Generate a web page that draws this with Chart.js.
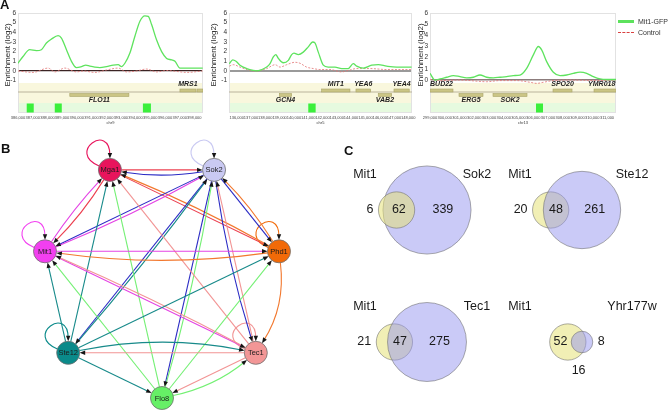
<!DOCTYPE html>
<html><head><meta charset="utf-8">
<script src="https://cdn.jsdelivr.net/npm/chart.js@4.4.1/dist/chart.umd.min.js"></script>
<style>
html,body{margin:0;padding:0;background:#fff}
#wrap{position:relative;width:669px;height:411px;overflow:hidden;font-family:"Liberation Sans",Arial,sans-serif;background:#fff}
canvas{position:absolute}
.pl{position:absolute;font-weight:bold;font-size:13px;color:#111;line-height:1}
.lg{position:absolute;font-size:7px;color:#333;line-height:1;white-space:nowrap}
.ln{position:absolute;width:16px;height:0}
</style></head><body>
<div id="wrap">
<canvas id="a1" width="210" height="130" style="left:0;top:0"></canvas>
<canvas id="a2" width="215" height="130" style="left:205px;top:0"></canvas>
<canvas id="a3" width="216" height="130" style="left:414px;top:0"></canvas>
<canvas id="nb" width="330" height="281" style="left:0;top:130px"></canvas>
<canvas id="vc" width="339" height="281" style="left:330px;top:130px"></canvas>
<div class="pl" style="left:0px;top:-2px">A</div>
<div class="pl" style="left:1px;top:142px">B</div>
<div class="pl" style="left:344px;top:144px">C</div>
<div class="ln" style="left:618px;top:20px;border-top:3px solid #5de25d"></div>
<div class="lg" style="left:638px;top:18px">Mit1-GFP</div>
<div class="ln" style="left:618px;top:32px;border-top:1px dashed #d94040"></div>
<div class="lg" style="left:638px;top:29px">Control</div>
</div>
<script>
// ================= PANEL A DATA =================
const enrichTicks = [-1, 0, 1, 2, 3, 4, 5, 6];

// --- chr9 / FLO11 region ---
const p1Ticks = [386000,387000,388000,389000,390000,391000,392000,393000,394000,395000,396000,397000,398000];
const p1Pos  = [386000,386343,386798,387252,387593,387934,388275,388730,388957,389298,389638,389979,390320,390615,390888,391229,391570,392024,392479,392820,393047,393274,393615,393956,394297,394638,394865,395093,395434,395775,396115,396456,396683,397024,397365,398570];
const p1Mit1 = [0.8,1.5,2.2,2.1,2.2,2.9,3.3,3.65,3.4,2.2,1.0,0.35,0.45,0.6,0.5,0.4,0.35,0.45,0.6,0.65,0.45,0.8,1.85,3.6,5.15,5.7,5.65,4.8,3.2,2.0,1.3,1.15,1.0,0.3,0.3,0.3];
const p1CtrlPos = [386000,387025,388047,388502,389184,389979,390433,391229,392024,392819,393387,394069,394751,395433,396114,396796,397478,398568];
const p1Ctrl    = [0.0,-0.15,0.3,-0.1,0.3,-0.1,0.0,-0.15,0.1,0.3,-0.1,0.0,0.2,-0.1,0.05,-0.05,-0.15,0.0];
const p1GeneName  = ['FLO11','MRS1',''];
const p1GeneStart = [389525,397021,398180];
const p1GeneEnd   = [393547,398112,398590];
const p1GeneStrand = [-1,1,1];
const p1PeakStart = [386593,388502,394501];
const p1PeakEnd   = [387071,388979,395046];

// --- chr5 / MIT1-GCN4 region ---
const p2Ticks = [136000,137000,138000,139000,140000,141000,142000,143000,144000,145000,146000,147000,148000];
const p2Pos  = [135483,135720,135950,136230,136700,137160,137400,137750,138100,138330,138560,138730,138910,139260,139610,139845,140005,140310,140655,141005,141310,141470,141705,142055,142400,142870,143340,143800,144150,144390,144850,145440,145900,146485,147185,148230];
const p2Mit1 = [0.75,1.15,1.0,0.6,0.25,0.05,0.0,0.15,0.4,0.75,1.45,1.7,1.3,0.85,1.1,1.7,1.85,1.7,1.95,2.5,3.0,2.9,1.95,0.6,0.4,0.4,0.25,0.25,0.75,0.5,0.3,0.6,0.65,0.5,0.4,0.4];
const p2CtrlPos = [135483,135770,136230,136930,137400,138100,138680,139030,139495,140075,140425,140890,141355,141820,142520,143340,143800,144390,145320,146485,148230];
const p2Ctrl    = [0.5,0.65,0.4,0.05,0.0,0.25,0.65,0.4,0.65,0.9,0.8,0.4,0.25,0.15,0.15,-0.1,0.05,0.25,0.25,0.15,0.15];
const p2GeneName  = ['GCN4','MIT1','YEA6','VAB2','YEA4'];
const p2GeneStart = [138980,141940,144340,145900,147000];
const p2GeneEnd   = [139845,143920,145370,146835,148065];
const p2GeneStrand = [-1,1,1,-1,1];
const p2PeakStart = [141005];
const p2PeakEnd   = [141520];

// --- chr13 / SOK2 region ---
const p3Ticks = [299000,300000,301000,302000,303000,304000,305000,306000,307000,308000,309000,310000,311000];
const p3Pos  = [299000,299339,299678,300130,300582,301034,301486,301938,302390,302842,303294,303746,304198,304650,305102,305554,306006,306345,306571,306910,307362,307814,308266,308718,309170,309622,310074,310526,310978,311610];
const p3Mit1 = [0.6,0.0,0.1,0.25,0.4,0.3,0.2,0.25,0.45,0.25,0.2,0.25,0.3,0.4,0.45,1.05,2.25,3.0,2.7,1.65,0.7,0.4,0.45,0.6,0.7,0.6,0.3,0.1,0.05,0.05];
const p3CtrlPos = [299000,299678,301034,302842,303746,304876,305780,306232,306684,307362,308718,310300,311610];
const p3Ctrl    = [0.05,-0.05,0.0,-0.15,-0.05,-0.05,-0.2,-0.3,-0.2,-0.05,0.0,-0.05,0.0];
const p3GeneName  = ['BUD22','ERG5','SOK2','SPO20','YMR018W'];
const p3GeneStart = [299000,300966,303271,307339,310119];
const p3GeneEnd   = [300559,302593,305577,308628,311611];
const p3GeneStrand = [1,-1,-1,1,1];
const p3PeakStart = [306187];
const p3PeakEnd   = [306661];

// ================= PANEL B DATA =================
const netNodes = ['Flo8','Ste12','Mit1','Mga1','Sok2','Phd1','Tec1'];
const edgeFrom = ['Mga1','Sok2','Mga1','Mit1','Mga1','Phd1','Sok2','Mit1','Sok2','Phd1','Sok2','Tec1','Sok2','Ste12','Sok2','Flo8','Flo8','Tec1','Ste12','Mit1','Phd1','Mit1','Tec1','Ste12','Flo8','Ste12','Phd1','Flo8','Flo8','Ste12','Tec1','Ste12','Tec1'];
const edgeTo   = ['Sok2','Mga1','Mit1','Mga1','Phd1','Mga1','Mit1','Sok2','Phd1','Sok2','Tec1','Sok2','Ste12','Sok2','Flo8','Sok2','Mga1','Mga1','Mga1','Phd1','Mit1','Tec1','Mit1','Mit1','Mit1','Phd1','Tec1','Phd1','Tec1','Tec1','Ste12','Flo8','Flo8'];
const edgeBend = [0,-0.08,-0.06,-0.04,0,0.03,0,0.03,0,0.06,0.04,0,0,0.02,0,0.03,0,0,0,0,-0.07,0,0.02,0,0,0,-0.18,0,0.12,-0.1,0,0,0];
const selfLoops = ['Mga1','Sok2','Mit1','Phd1','Ste12','Tec1'];

// ================= PANEL C DATA =================
const vennPartner = ['Sok2','Ste12','Tec1','Yhr177w'];
const mit1Only    = [6,20,21,52];
const sharedCount = [62,48,47,16];
const partnerOnly = [339,261,275,8];

// ================= STYLES =================
const FONT = '"Liberation Sans", Arial, sans-serif';
Chart.defaults.font.family = FONT;
const nodeFill = {Flo8:'#66f066',Ste12:'#0a8a8a',Mit1:'#f23ff0',Mga1:'#e8145c',Sok2:'#c9c9f2',Phd1:'#f26a08',Tec1:'#f29696'};
const edgeInk  = {Flo8:'#74f074',Ste12:'#178a8a',Mit1:'#e443e4',Mga1:'#ec4050',Sok2:'#2b2bc4',Phd1:'#f2782e',Tec1:'#f29494'};

// ================= PANEL A CHARTS =================
function trackPlugin(o){
  return {
    id:'track'+o.id,
    beforeDatasetsDraw(chart){
      const {ctx, chartArea:a, scales:{x}} = chart;
      const B = a.bottom, L = B - 21.5;
      ctx.save();
      ctx.fillStyle = '#f9f7dd'; ctx.fillRect(a.left, B-30, a.width, 20);
      ctx.fillStyle = '#e6fadf'; ctx.fillRect(a.left, B-10, a.width, 10);
      ctx.strokeStyle = '#e2e2e2'; ctx.lineWidth = 1;
      ctx.strokeRect(a.left+0.5, a.top+0.5, a.width-1, a.height-1);
      ctx.strokeStyle = '#bab39b'; ctx.lineWidth = 1;
      ctx.beginPath(); ctx.moveTo(a.left, L+0.5); ctx.lineTo(a.right, L+0.5); ctx.stroke();
      ctx.beginPath(); ctx.rect(a.left, a.top, a.width, a.height); ctx.clip();
      o.geneName.forEach((g,i)=>{
        const x0 = x.getPixelForValue(o.geneStart[i]), x1 = x.getPixelForValue(o.geneEnd[i]);
        const y0 = o.geneStrand[i] > 0 ? L-2.5 : L+2;
        ctx.fillStyle = '#cbc585'; ctx.fillRect(x0, y0, x1-x0, 3);
        ctx.strokeStyle = '#a9a468'; ctx.lineWidth = 0.6; ctx.strokeRect(x0, y0, x1-x0, 3);
        if (g) {
          ctx.fillStyle = '#1e1e1e';
          ctx.font = 'italic bold 7px ' + FONT;
          ctx.textAlign = 'center'; ctx.textBaseline = 'middle';
          ctx.fillText(g, (x0+x1)/2, o.geneStrand[i] > 0 ? L-7 : L+8.5);
        }
      });
      ctx.fillStyle = '#3bef3b';
      o.peakStart.forEach((s,i)=>{
        const x0 = x.getPixelForValue(s), x1 = x.getPixelForValue(o.peakEnd[i]);
        ctx.fillRect(x0, B-9.5, x1-x0, 9);
      });
      ctx.restore();
    },
    afterDraw(chart){
      const {ctx, chartArea:a} = chart;
      ctx.save();
      ctx.fillStyle = '#333';
      ctx.font = '4px ' + FONT;
      ctx.textAlign = 'center'; ctx.textBaseline = 'middle';
      ctx.fillText(o.chrom, (a.left+a.right)/2, a.bottom + 9.5);
      ctx.translate(a.left + o.yLabelDx, a.top + 42);
      ctx.rotate(-Math.PI/2);
      ctx.font = '8px ' + FONT; ctx.fillStyle = '#222';
      ctx.fillText('Enrichment (log2)', 0, 0);
      ctx.restore();
    }
  };
}

function makeTrackChart(o){
  const ds = [
    {label:'Mit1-GFP', data:o.pos.map((v,i)=>({x:v, y:o.mit1[i]})), borderColor:'#5ee35e', borderWidth:1.3, pointRadius:0, cubicInterpolationMode:'monotone', fill:false},
    {label:'Control', data:o.ctrlPos.map((v,i)=>({x:v, y:o.ctrl[i]})), borderColor:'#e27474', borderWidth:0.8, borderDash:[2,1.5], pointRadius:0, cubicInterpolationMode:'monotone', fill:false}
  ];
  return new Chart(document.getElementById(o.id), {
    type:'line',
    data:{datasets:ds},
    options:{
      responsive:false, animation:false, events:[],
      layout:{autoPadding:false, padding:{top:13, right:o.padR, left:0, bottom:0}},
      plugins:{legend:{display:false}, tooltip:{enabled:false}},
      scales:{
        x:{type:'linear', min:o.xMin, max:o.xMax,
           afterBuildTicks:s=>{ s.ticks = o.ticks.map(v=>({value:v})); },
           afterFit:s=>{ s.height = 17; },
           ticks:{font:{size:4}, color:'#444', padding:2, maxRotation:0, minRotation:0, autoSkip:false,
                  callback:v=>Number(v).toLocaleString('en-US')},
           grid:{display:false, drawTicks:false}, border:{display:false}},
        y:{type:'linear', min:o.yMin, max:6,
           afterBuildTicks:s=>{ s.ticks = enrichTicks.filter(v=>v>=o.yTickMin).map(v=>({value:v})); },
           afterFit:s=>{ s.width = o.yW; },
           ticks:{font:{size:6.5}, color:'#333', padding:2, autoSkip:false},
           grid:{drawTicks:false, lineWidth:c=>(c.tick && c.tick.value===0) ? o.zeroW : 1,
                 color:c=>(c.tick && c.tick.value===0) ? o.zeroColor : 'rgba(0,0,0,0)'},
           border:{display:false}}
      }
    },
    plugins:[trackPlugin(o)]
  });
}

makeTrackChart({id:'a1', pos:p1Pos, mit1:p1Mit1, ctrlPos:p1CtrlPos, ctrl:p1Ctrl, ticks:p1Ticks,
  geneName:p1GeneName, geneStart:p1GeneStart, geneEnd:p1GeneEnd, geneStrand:p1GeneStrand, peakStart:p1PeakStart, peakEnd:p1PeakEnd,
  xMin:386000, xMax:398590, yMin:-4.35, yTickMin:-1, yW:18, padR:7, yLabelDx:-10, zeroColor:'#3b2424', zeroW:1.3, chrom:'chr9'});
makeTrackChart({id:'a2', pos:p2Pos, mit1:p2Mit1, ctrlPos:p2CtrlPos, ctrl:p2Ctrl, ticks:p2Ticks,
  geneName:p2GeneName, geneStart:p2GeneStart, geneEnd:p2GeneEnd, geneStrand:p2GeneStrand, peakStart:p2PeakStart, peakEnd:p2PeakEnd,
  xMin:135460, xMax:148260, yMin:-4.35, yTickMin:-1, yW:24, padR:8, yLabelDx:-15, zeroColor:'#9a9a9a', zeroW:2, chrom:'chr5'});
makeTrackChart({id:'a3', pos:p3Pos, mit1:p3Mit1, ctrlPos:p3CtrlPos, ctrl:p3Ctrl, ticks:p3Ticks,
  geneName:p3GeneName, geneStart:p3GeneStart, geneEnd:p3GeneEnd, geneStrand:p3GeneStrand, peakStart:p3PeakStart, peakEnd:p3PeakEnd,
  xMin:299000, xMax:311610, yMin:-2.95, yTickMin:0, yW:16, padR:14, yLabelDx:-9, zeroColor:'#8c7c7c', zeroW:1.5, chrom:'chr13'});

// ================= PANEL B: NETWORK =================
const nodeAngle = netNodes.map((_,i)=>Math.PI/2 + i*2*Math.PI/7);
const nodeX = nodeAngle.map(a=>Math.cos(a));
const nodeY = nodeAngle.map(a=>Math.sin(a));
const NODE_R = 11.5;

function arrowHead(ctx, x, y, ang){
  const Lh = 5.5, W = 2.2;
  ctx.beginPath();
  ctx.moveTo(x, y);
  ctx.lineTo(x - Lh*Math.cos(ang) + W*Math.sin(ang), y - Lh*Math.sin(ang) - W*Math.cos(ang));
  ctx.lineTo(x - Lh*Math.cos(ang) - W*Math.sin(ang), y - Lh*Math.sin(ang) + W*Math.cos(ang));
  ctx.closePath(); ctx.fill();
}

function edgeGeom(P, i){
  const a = P[edgeFrom[i]], b = P[edgeTo[i]];
  const dx = b.x-a.x, dy = b.y-a.y, len = Math.hypot(dx,dy);
  const ux = dx/len, uy = dy/len;
  const cx = (a.x+b.x)/2 + edgeBend[i]*len*(-uy), cy = (a.y+b.y)/2 + edgeBend[i]*len*ux;
  const sx = cx-a.x, sy = cy-a.y, sl = Math.hypot(sx,sy);
  const ex = b.x-cx, ey = b.y-cy, el = Math.hypot(ex,ey);
  return {S:{x:a.x + NODE_R*sx/sl, y:a.y + NODE_R*sy/sl}, C:{x:cx,y:cy},
          E:{x:b.x - NODE_R*ex/el, y:b.y - NODE_R*ey/el}, ang:Math.atan2(ey,ex)};
}

const netPlugin = {
  id:'net',
  beforeDatasetsDraw(chart){
    const {ctx, scales:{x,y}} = chart;
    const P = {};
    netNodes.forEach((n,i)=>{ P[n] = {x:x.getPixelForValue(nodeX[i]), y:y.getPixelForValue(nodeY[i])}; });
    ctx.save();
    ctx.lineWidth = 1.1;
    selfLoops.forEach(n=>{
      const c = P[n], r = NODE_R;
      ctx.strokeStyle = nodeFill[n];
      ctx.beginPath(); ctx.moveTo(c.x-0.94*r, c.y-0.34*r);
      ctx.bezierCurveTo(c.x-3.8*r, c.y-1.5*r, c.x, c.y-4.2*r, c.x, c.y-r-3);
      ctx.stroke();
      ctx.fillStyle = '#151515'; arrowHead(ctx, c.x, c.y-r, Math.PI/2);
    });
    edgeFrom.forEach((f,i)=>{
      const g = edgeGeom(P, i);
      ctx.strokeStyle = edgeInk[f];
      ctx.beginPath(); ctx.moveTo(g.S.x, g.S.y);
      ctx.quadraticCurveTo(g.C.x, g.C.y, g.E.x - 3*Math.cos(g.ang), g.E.y - 3*Math.sin(g.ang));
      ctx.stroke();
    });
    ctx.fillStyle = '#151515';
    edgeFrom.forEach((f,i)=>{ const g = edgeGeom(P, i); arrowHead(ctx, g.E.x, g.E.y, g.ang); });
    ctx.restore();
  },
  afterDatasetsDraw(chart){
    const {ctx, scales:{x,y}} = chart;
    ctx.save();
    ctx.font = '7.5px ' + FONT; ctx.fillStyle = '#1c1c1c';
    ctx.textAlign = 'center'; ctx.textBaseline = 'middle';
    netNodes.forEach((n,i)=>ctx.fillText(n, x.getPixelForValue(nodeX[i]), y.getPixelForValue(nodeY[i])+0.5));
    ctx.restore();
  }
};

new Chart(document.getElementById('nb'), {
  type:'scatter',
  data:{datasets:[{data:netNodes.map((n,i)=>({x:nodeX[i], y:nodeY[i]})),
    pointRadius:NODE_R, pointBackgroundColor:netNodes.map(n=>nodeFill[n]), pointBorderColor:'#6e6e6e', pointBorderWidth:0.8}]},
  options:{responsive:false, animation:false, events:[],
    layout:{autoPadding:false, padding:0},
    plugins:{legend:{display:false}, tooltip:{enabled:false}},
    scales:{x:{type:'linear', min:-1.35, max:1.40, display:false},
            y:{type:'linear', min:-1.2333, max:1.1083, reverse:true, display:false}}},
  plugins:[netPlugin]
});

// ================= PANEL C: VENN =================
const K = 2.2;                 // px per sqrt(gene)
const vennCol = [97, 252];     // layout grid (partner circle centres)
const vennRow = [80, 212];
const mit1Front = [true, false, false, false];

function lensArea(r1, r2, d){
  if (d >= r1+r2) return 0;
  if (d <= Math.abs(r1-r2)) return Math.PI*Math.min(r1,r2)**2;
  const a1 = r1*r1*Math.acos((d*d + r1*r1 - r2*r2)/(2*d*r1));
  const a2 = r2*r2*Math.acos((d*d + r2*r2 - r1*r1)/(2*d*r2));
  const t = 0.5*Math.sqrt((-d+r1+r2)*(d+r1-r2)*(d-r1+r2)*(d+r1+r2));
  return a1 + a2 - t;
}
function solveDist(r1, r2, target){
  let lo = Math.abs(r1-r2), hi = r1+r2;
  for (let k=0;k<60;k++){ const m=(lo+hi)/2; if (lensArea(r1,r2,m) > target) lo = m; else hi = m; }
  return (lo+hi)/2;
}
const venn = vennPartner.map((p,i)=>{
  const R = K*Math.sqrt(partnerOnly[i] + sharedCount[i]);
  const r = K*Math.sqrt(mit1Only[i] + sharedCount[i]);
  const d = solveDist(R, r, Math.PI*K*K*sharedCount[i]);
  const cx = vennCol[i%2], cy = vennRow[Math.floor(i/2)];
  return {p, R, r, cx, cy, mx:cx-d};
});

const yellow = 'rgba(230,225,120,0.55)', lav = 'rgba(150,150,240,0.5)', edge = 'rgba(105,105,105,0.55)';
const backPartner = venn.filter((v,i)=>mit1Front[i]).map(v=>({x:v.cx, y:v.cy, r:v.R}));
const mit1Circles = venn.map(v=>({x:v.mx, y:v.cy, r:v.r}));
const frontPartner = venn.filter((v,i)=>!mit1Front[i]).map(v=>({x:v.cx, y:v.cy, r:v.R}));

const vennText = {
  id:'vennText',
  afterDatasetsDraw(chart){
    const {ctx, scales:{x,y}} = chart;
    ctx.save();
    ctx.font = '12.5px ' + FONT; ctx.fillStyle = '#1a1a1a'; ctx.textBaseline = 'middle';
    venn.forEach((v,i)=>{
      const X = t=>x.getPixelForValue(t), Y = t=>y.getPixelForValue(t);
      ctx.textAlign = 'center';
      ctx.fillText('Mit1', X(v.cx-62), Y(v.cy-35));
      ctx.fillText(v.p, X(v.cx+50), Y(v.cy-35));
      const mL = v.mx - v.r, mR = v.mx + v.r, pL = v.cx - v.R, pR = v.cx + v.R;
      if (pL - mL < 16){ ctx.textAlign='right'; ctx.fillText(String(mit1Only[i]), X(mL-5), Y(v.cy)); }
      else { ctx.textAlign='center'; ctx.fillText(String(mit1Only[i]), X((mL+pL)/2), Y(v.cy)); }
      ctx.textAlign = 'center';
      if (mR - pL < 16) ctx.fillText(String(sharedCount[i]), X((mR+pL)/2), Y(v.cy + Math.max(v.r,v.R) + 10));
      else ctx.fillText(String(sharedCount[i]), X((mR+pL)/2), Y(v.cy));
      if (pR - mR < 16){ ctx.textAlign='left'; ctx.fillText(String(partnerOnly[i]), X(pR+5), Y(v.cy)); }
      else { ctx.textAlign='center'; ctx.fillText(String(partnerOnly[i]), X((mR+pR)/2), Y(v.cy)); }
    });
    ctx.restore();
  }
};

new Chart(document.getElementById('vc'), {
  type:'bubble',
  data:{datasets:[
    {data:frontPartner, backgroundColor:lav, borderColor:edge, borderWidth:1},
    {data:mit1Circles, backgroundColor:yellow, borderColor:edge, borderWidth:1},
    {data:backPartner, backgroundColor:lav, borderColor:edge, borderWidth:1}
  ]},
  options:{responsive:false, animation:false, events:[],
    layout:{autoPadding:false, padding:0},
    plugins:{legend:{display:false}, tooltip:{enabled:false}},
    scales:{x:{type:'linear', min:0, max:339, display:false},
            y:{type:'linear', min:0, max:281, reverse:true, display:false}}},
  plugins:[vennText]
});
</script>
</body></html>
